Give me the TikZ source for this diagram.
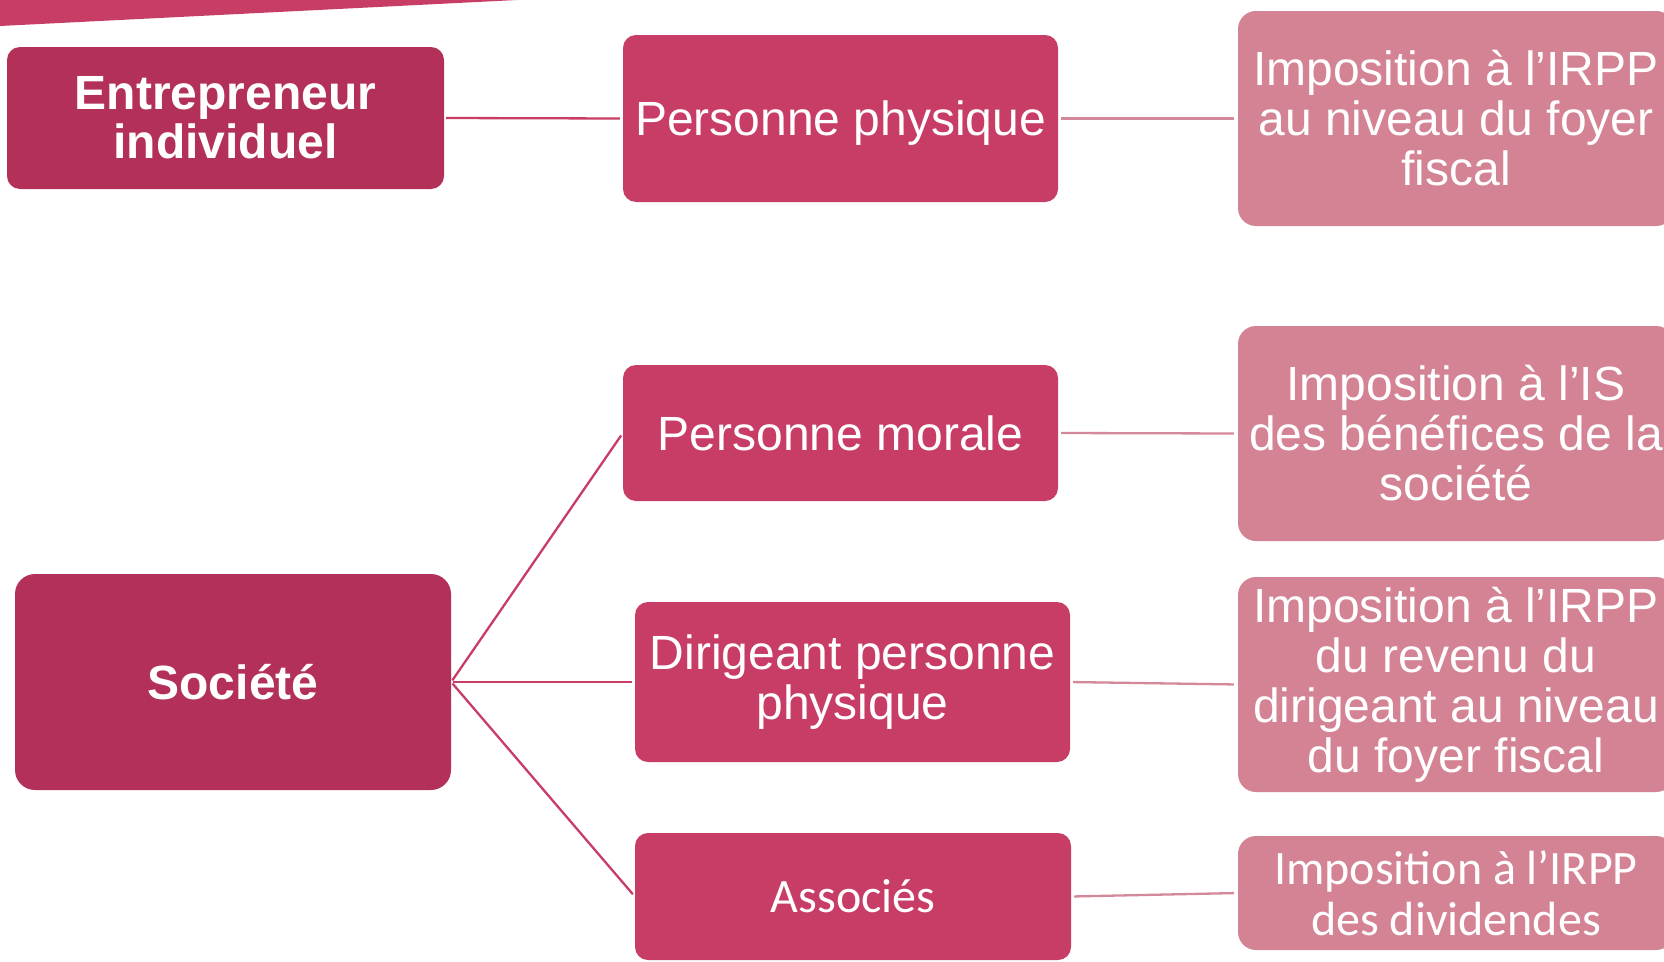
\documentclass[tikz,border=0pt]{standalone}
\usepackage{fontspec}
\setmainfont{Liberation Sans}
\newfontfamily\calfont{Carlito}
\definecolor{cdark}{HTML}{B33158}
\definecolor{cmid}{HTML}{C83D66}
\definecolor{clight}{HTML}{D48394}
\definecolor{lnleft}{HTML}{C83D66}
\definecolor{lnright}{HTML}{D4899A}
\tikzset{
  box/.style={inner sep=0pt, align=center, text=white, font=\fontsize{48}{50}\selectfont},
  darkbox/.style={box, fill=cdark, rounded corners=13pt, font=\fontsize{48}{49}\selectfont\bfseries},
  midbox/.style={box, fill=cmid, rounded corners=13pt},
  lightbox/.style={box, fill=clight, rounded corners=18pt},
  leftline/.style={draw=lnleft, line width=2.3pt, shorten >=3pt, shorten <=2pt},
  rightline/.style={draw=lnright, line width=2.3pt, shorten >=4pt, shorten <=3pt},
}
\begin{document}
\begin{tikzpicture}[x=1pt,y=-1pt]
\clip (0,0) rectangle (1664,961);
\fill[white] (0,0) rectangle (1664,961);
\fill[cmid] (0,0) -- (517,0) -- (0,26) -- cycle;

\node[darkbox, minimum width=437pt, minimum height=142pt] (ent) at (225.5,118) {Entrepreneur\\individuel};
\node[midbox, minimum width=435pt, minimum height=167pt, text depth=0pt] (pp) at (840.5,118.5) {Personne physique};
\node[lightbox, minimum width=436pt, minimum height=215pt] (imp1) at (1456,118.5) {Imposition à l’IRPP\\au niveau du foyer\\fiscal};

\node[midbox, minimum width=435pt, minimum height=136pt] (pm) at (840.5,433) {Personne morale};
\node[lightbox, minimum width=436pt, minimum height=215pt] (imp2) at (1456,433.5) {Imposition à l’IS\\des bénéfices de la\\société};

\node[darkbox, rounded corners=20pt, minimum width=436pt, minimum height=216pt] (soc) at (233,682) {Société};
\node[midbox, minimum width=435pt, minimum height=160pt] (dir) at (852.5,682) {Dirigeant personne\\physique};
\node[lightbox, minimum width=436pt, minimum height=215pt] (imp3) at (1456,684.5) {Imposition à l’IRPP\\du revenu du\\dirigeant au niveau\\du foyer fiscal};

\node[midbox, minimum width=436pt, minimum height=127pt, font=\calfont\fontsize{48}{51}\selectfont] (ass) at (853,896.5) {Associés};
\node[lightbox, minimum width=436pt, minimum height=114pt, font=\calfont\fontsize{48}{51}\selectfont] (imp4) at (1456,893) {Imposition à l’IRPP\\des dividendes};

\draw[leftline] (ent.east) -- (pp.west);
\draw[rightline] (pp.east) -- (imp1.west);
\draw[leftline] (soc.east) -- (pm.west);
\draw[leftline] (soc.east) -- (dir.west);
\draw[leftline] (soc.east) -- (ass.west);
\draw[rightline] (pm.east) -- (imp2.west);
\draw[rightline] (dir.east) -- (imp3.west);
\draw[rightline] (ass.east) -- (imp4.west);
\end{tikzpicture}
\end{document}
